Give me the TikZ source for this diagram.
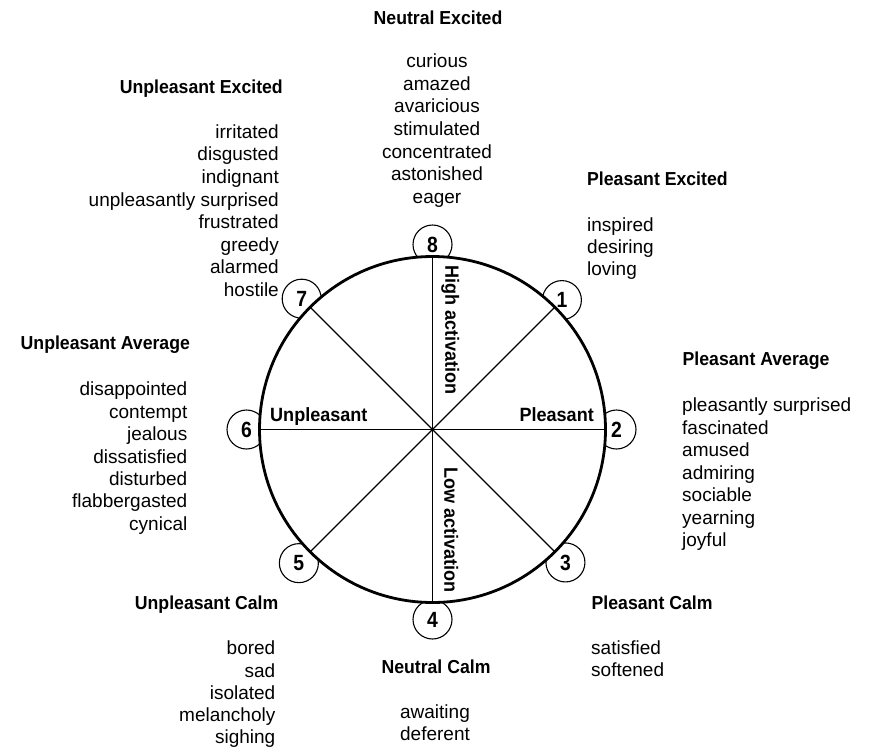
\documentclass[tikz,border=0pt]{standalone}
\usepackage{fontspec}
\setmainfont{Liberation Sans}
\newfontfamily\headfont[FakeStretch=0.94]{Liberation Sans}
\newfontfamily\digitfont[FakeStretch=0.88]{Liberation Sans}
\usetikzlibrary{calc}

\tikzset{
  word/.style={font=\fontsize{19}{22}\selectfont, inner sep=0pt},
  head/.style={font=\headfont\bfseries\fontsize{18.8}{22}\selectfont, inner sep=0pt},
  axislabel/.style={font=\headfont\bfseries\fontsize{19.2}{22}\selectfont, inner sep=0pt},
  badge/.style={circle, draw, line width=1.1pt, fill=white, minimum size=39pt,
                inner sep=0pt, font=\digitfont\bfseries\fontsize{22}{22}\selectfont},
  rim/.style={line width=2.8pt},
  spoke/.style={line width=1.2pt}
}

\begin{document}
\begin{tikzpicture}[x=1pt,y=-1pt]
\useasboundingbox (0,0) rectangle (869,747);
\coordinate (O) at (432.5,429.5);

% numbered badges, partly hidden behind the wheel
\foreach \n/\a/\r in {1/45/183,2/0/184,3/-45/188,4/-90/190,5/-135/189,6/180/186,7/135/185,8/90/185}
  \node[badge] (b\n) at ($(O)+({-\a}:\r)$) {\n};

% the wheel
\fill[white] (O) circle (173pt);
\draw[rim] (O) circle (173pt);
\foreach \a in {0,45,...,315}
  \coordinate (p\a) at ($(O)+({-\a}:173)$);
\draw[spoke] (p90) -- (p270);
\draw[spoke] (p0) -- (p180);
\draw[spoke] (p45) -- (p225);
\draw[spoke] (p135) -- (p315);

% axis labels
\node[axislabel, rotate=-90, anchor=mid west] (high) at (448,265) {High activation};
\node[axislabel, rotate=-90, anchor=mid west] (low) at (447,467) {Low activation};
\node[axislabel, anchor=base west] (unpl) at (270,421) {Unpleasant};
\node[axislabel, anchor=base east] (pl) at (594,421) {Pleasant};

% Neutral Excited
\node[head, anchor=mid] (hNE) at (438,22) {Neutral Excited};
\foreach \w [count=\i from 0] in {curious,amazed,avaricious,stimulated,concentrated,astonished,eager}
  \node[word, anchor=mid] (ne\i) at (437,{65+22.6*\i}) {\w};

% Unpleasant Excited
\node[head, anchor=mid east] (hUE) at (283,91) {Unpleasant Excited};
\foreach \w [count=\i from 0] in {irritated,disgusted,indignant,unpleasantly surprised,frustrated,greedy,alarmed,hostile}
  \node[word, anchor=mid east] (ue\i) at (279,{135.7+22.6*\i}) {\w};

% Pleasant Excited
\node[head, anchor=mid west] (hPE) at (587,183) {Pleasant Excited};
\foreach \w [count=\i from 0] in {inspired,desiring,loving}
  \node[word, anchor=mid west] (pe\i) at (587,{228.5+22*\i}) {\w};

% Unpleasant Average
\node[head, anchor=mid west] (hUA) at (20.5,347.3) {Unpleasant Average};
\foreach \w [count=\i from 0] in {disappointed,contempt,jealous,dissatisfied,disturbed,flabbergasted,cynical}
  \node[word, anchor=mid east] (ua\i) at (187.5,{393.3+22.4*\i}) {\w};

% Pleasant Average
\node[head, anchor=mid west] (hPA) at (682.5,363.3) {Pleasant Average};
\foreach \w [count=\i from 0] in {pleasantly surprised,fascinated,amused,admiring,sociable,yearning,joyful}
  \node[word, anchor=mid west] (pa\i) at (682,{409+22.5*\i}) {\w};

% Unpleasant Calm
\node[head, anchor=mid east] (hUC) at (278.5,606.7) {Unpleasant Calm};
\foreach \w [count=\i from 0] in {bored,sad,isolated,melancholy,sighing}
  \node[word, anchor=mid east] (uc\i) at (275.5,{652.3+22.1*\i}) {\w};

% Neutral Calm
\node[head, anchor=mid] (hNC) at (436,670.7) {Neutral Calm};
\foreach \w [count=\i from 0] in {awaiting,deferent}
  \node[word, anchor=mid] (nc\i) at (435,{715.7+22*\i}) {\w};

% Pleasant Calm
\node[head, anchor=mid west] (hPC) at (591.5,606.7) {Pleasant Calm};
\foreach \w [count=\i from 0] in {satisfied,softened}
  \node[word, anchor=mid west] (pc\i) at (591,{652.3+22*\i}) {\w};
\end{tikzpicture}
\end{document}
